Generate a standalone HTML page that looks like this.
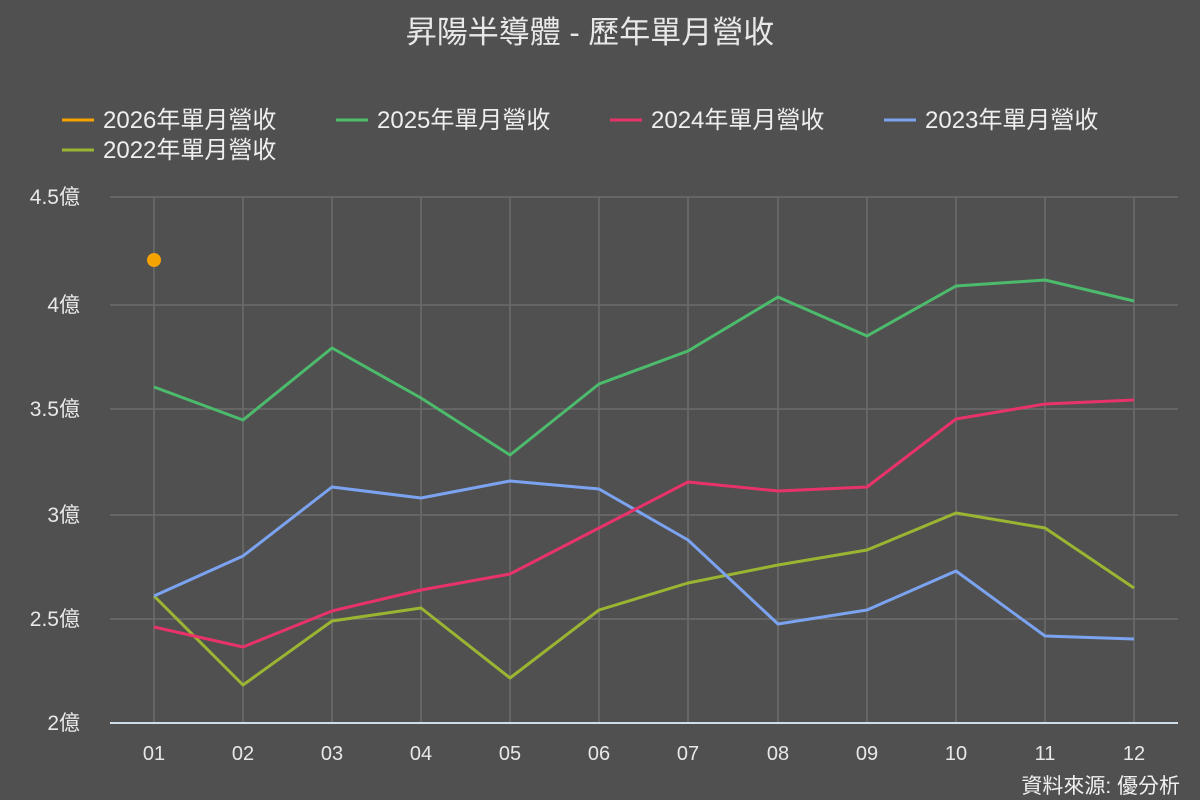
<!DOCTYPE html>
<html><head><meta charset="utf-8"><style>
body{margin:0;background:#505050;}
svg{display:block;font-family:"Liberation Sans","Noto Sans CJK TC",sans-serif;}
</style></head><body>
<svg width="1200" height="800" viewBox="0 0 1200 800">
<rect width="1200" height="800" fill="#505050"/>
<text x="590" y="43" fill="#e8e8e8" font-size="31" text-anchor="middle">昇陽半導體 - 歷年單月營收</text>
<g font-size="24" fill="#eeeeee">
<line x1="62" y1="120" x2="94" y2="120" stroke="#f5a300" stroke-width="3"/><text x="103" y="128">2026年單月營收</text>
<line x1="336" y1="120" x2="368" y2="120" stroke="#4cbb6c" stroke-width="3"/><text x="377" y="128">2025年單月營收</text>
<line x1="610" y1="120" x2="642" y2="120" stroke="#e8336a" stroke-width="3"/><text x="651" y="128">2024年單月營收</text>
<line x1="884" y1="120" x2="916" y2="120" stroke="#7ba3f0" stroke-width="3"/><text x="925" y="128">2023年單月營收</text>
<line x1="62" y1="150" x2="94" y2="150" stroke="#9ab531" stroke-width="3"/><text x="103" y="158">2022年單月營收</text>
</g>
<g stroke="#6c6c6c" stroke-width="1.5">
<line x1="110" y1="197" x2="1178" y2="197"/><line x1="110" y1="305" x2="1178" y2="305"/>
<line x1="110" y1="409" x2="1178" y2="409"/><line x1="110" y1="515" x2="1178" y2="515"/>
<line x1="110" y1="619" x2="1178" y2="619"/>
<line x1="154" y1="197" x2="154" y2="723"/><line x1="243" y1="197" x2="243" y2="723"/>
<line x1="332" y1="197" x2="332" y2="723"/><line x1="421" y1="197" x2="421" y2="723"/>
<line x1="510" y1="197" x2="510" y2="723"/><line x1="599" y1="197" x2="599" y2="723"/>
<line x1="688" y1="197" x2="688" y2="723"/><line x1="778" y1="197" x2="778" y2="723"/>
<line x1="867" y1="197" x2="867" y2="723"/><line x1="956" y1="197" x2="956" y2="723"/>
<line x1="1045" y1="197" x2="1045" y2="723"/><line x1="1134" y1="197" x2="1134" y2="723"/>
</g>
<line x1="110" y1="723" x2="1178" y2="723" stroke="#d0dde8" stroke-width="2"/>
<g font-size="21" fill="#e8e8e8" text-anchor="end">
<text x="80" y="204">4.5億</text><text x="80" y="312">4億</text><text x="80" y="416">3.5億</text>
<text x="80" y="522">3億</text><text x="80" y="626">2.5億</text><text x="80" y="730">2億</text>
</g>
<g font-size="20" fill="#e8e8e8" text-anchor="middle">
<text x="154" y="760">01</text><text x="243" y="760">02</text><text x="332" y="760">03</text><text x="421" y="760">04</text>
<text x="510" y="760">05</text><text x="599" y="760">06</text><text x="688" y="760">07</text><text x="778" y="760">08</text>
<text x="867" y="760">09</text><text x="956" y="760">10</text><text x="1045" y="760">11</text><text x="1134" y="760">12</text>
</g>
<g fill="none" stroke-width="3" stroke-linejoin="round">
<polyline stroke="#9ab531" points="154,596 243,685 332,621 421,608 510,678 599,610 688,583 778,565 867,550 956,513 1045,528 1134,588"/>
<polyline stroke="#7ba3f0" points="154,596 243,556 332,487 421,498 510,481 599,489 688,540 778,624 867,610 956,571 1045,636 1134,639"/>
<polyline stroke="#e8336a" points="154,627 243,647 332,611 421,590 510,574 599,528 688,482 778,491 867,487 956,419 1045,404 1134,400"/>
<polyline stroke="#4cbb6c" points="154,387 243,420 332,348 421,398 510,455 599,384 688,351 778,297 867,336 956,286 1045,280 1134,301"/>
</g>
<circle cx="154" cy="260" r="7" fill="#f5a300"/>
<text x="1180" y="793" font-size="21" fill="#f0f0f0" text-anchor="end">資料來源: 優分析</text>
</svg>
</body></html>
